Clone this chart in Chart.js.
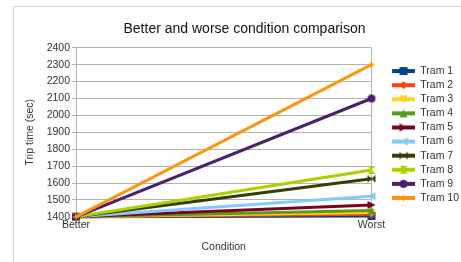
<!DOCTYPE html>
<html>
<head>
<meta charset="utf-8">
<script src="https://cdn.jsdelivr.net/npm/chart.js@4"></script>
<style>
  body { margin: 0; background: #fff; }
  #wrap { width: 461px; height: 262px; }
</style>
</head>
<body>
<div id="wrap"><canvas id="chart_canvas"></canvas></div>
<script>
const conditions = ['Better', 'Worst'];
const trams = ['Tram 1', 'Tram 2', 'Tram 3', 'Tram 4', 'Tram 5', 'Tram 6', 'Tram 7', 'Tram 8', 'Tram 9', 'Tram 10'];
const betterTimes = [1400, 1400, 1400, 1400, 1400, 1400, 1400, 1400, 1400, 1400];
const worstTimes = [1405, 1415, 1425, 1437, 1470, 1522, 1625, 1677, 2100, 2300];
const yTicks = [1400, 1500, 1600, 1700, 1800, 1900, 2000, 2100, 2200, 2300, 2400];

const colors = ['#004586', '#ff420e', '#ffd320', '#579d1c', '#7e0021', '#83caff', '#314004', '#aecf00', '#4b1f6f', '#ff950e'];
const shapes = ['square', 'diamond', 'down', 'up', 'right', 'left', 'bowtie', 'hourglass', 'circle', 'star'];

function drawMarker(c, shape, x, y, r) {
    c.beginPath();
    switch (shape) {
        case 'square': c.rect(x - r, y - r, 2 * r, 2 * r); break;
        case 'diamond': c.moveTo(x, y - r); c.lineTo(x + r, y); c.lineTo(x, y + r); c.lineTo(x - r, y); break;
        case 'down': c.moveTo(x - r, y - r); c.lineTo(x + r, y - r); c.lineTo(x, y + r); break;
        case 'up': c.moveTo(x - r, y + r); c.lineTo(x + r, y + r); c.lineTo(x, y - r); break;
        case 'right': c.moveTo(x - r, y - r); c.lineTo(x + r, y); c.lineTo(x - r, y + r); break;
        case 'left': c.moveTo(x + r, y - r); c.lineTo(x - r, y); c.lineTo(x + r, y + r); break;
        case 'bowtie':
            c.moveTo(x - r, y - r); c.lineTo(x, y); c.lineTo(x - r, y + r); c.closePath();
            c.moveTo(x + r, y - r); c.lineTo(x, y); c.lineTo(x + r, y + r); break;
        case 'hourglass':
            c.moveTo(x - r, y - r); c.lineTo(x + r, y - r); c.lineTo(x, y); c.closePath();
            c.moveTo(x - r, y + r); c.lineTo(x + r, y + r); c.lineTo(x, y); break;
        case 'circle': c.arc(x, y, r, 0, Math.PI * 2); break;
        case 'star':
            c.moveTo(x, y - r); c.lineTo(x + r * 0.25, y - r * 0.25); c.lineTo(x + r, y);
            c.lineTo(x + r * 0.25, y + r * 0.25); c.lineTo(x, y + r); c.lineTo(x - r * 0.25, y + r * 0.25);
            c.lineTo(x - r, y); c.lineTo(x - r * 0.25, y - r * 0.25); break;
    }
    c.closePath();
    c.fill();
}

function markerCanvas(i) {
    const cv = document.createElement('canvas');
    cv.width = 10; cv.height = 10;
    const c = cv.getContext('2d');
    c.fillStyle = colors[i];
    drawMarker(c, shapes[i], 5, 5, 4);
    return cv;
}

function legendCanvas(i) {
    const cv = document.createElement('canvas');
    cv.width = 40; cv.height = 10;
    const c = cv.getContext('2d');
    c.strokeStyle = colors[i];
    c.lineWidth = 4;
    c.beginPath(); c.moveTo(17, 5); c.lineTo(40, 5); c.stroke();
    c.fillStyle = colors[i];
    drawMarker(c, shapes[i], 28.5, 5, 4);
    return cv;
}

const legendIcons = trams.map((t, i) => legendCanvas(i));

const frame = {
    id: 'frame',
    beforeDraw(chart) {
        const c = chart.ctx;
        c.save();
        c.strokeStyle = '#d4d4d4';
        c.lineWidth = 1;
        c.beginPath();
        c.moveTo(13.5, 270); c.lineTo(13.5, 6.5); c.lineTo(470, 6.5);
        c.stroke();
        c.restore();
    }
};

Chart.defaults.font.family = 'Liberation Sans';
Chart.defaults.color = '#333';

document.addEventListener('DOMContentLoaded', () => {
    const ctx = document.getElementById('chart_canvas').getContext('2d');
    new Chart(ctx, {
        type: 'line',
        data: {
            labels: conditions,
            datasets: trams.map((name, i) => ({
                label: name,
                data: [betterTimes[i], worstTimes[i]],
                borderColor: colors[i],
                backgroundColor: colors[i],
                borderWidth: 3,
                pointStyle: markerCanvas(i),
                pointRadius: 4,
                tension: 0,
                clip: false,
                order: trams.length - i
            }))
        },
        plugins: [frame],
        options: {
            responsive: true,
            maintainAspectRatio: false,
            animation: false,
            layout: {
                padding: { left: 20, right: -8, top: 0, bottom: 7 }
            },
            plugins: {
                title: {
                    display: true,
                    text: 'Better and worse condition comparison',
                    color: '#111',
                    font: { size: 14, weight: 'normal' },
                    padding: { top: 21, bottom: 10 }
                },
                legend: {
                    position: 'right',
                    title: {
                        display: true,
                        text: ' ',
                        font: { size: 10, lineHeight: 1 },
                        padding: { top: 2, bottom: 2 }
                    },
                    labels: {
                        usePointStyle: true,
                        pointStyleWidth: 40,
                        boxHeight: 10,
                        padding: 3.6,
                        font: { size: 10.5 },
                        color: '#333',
                        sort: (a, b) => a.datasetIndex - b.datasetIndex,
                        generateLabels: (chart) => chart.data.datasets.map((ds, i) => ({
                            text: ds.label,
                            pointStyle: legendIcons[i],
                            datasetIndex: i,
                            fontColor: '#333',
                            lineWidth: 0,
                            hidden: false
                        }))
                    }
                },
                tooltip: { enabled: false }
            },
            scales: {
                x: {
                    offset: false,
                    grid: { color: '#b3b3b3', drawTicks: false },
                    border: { color: '#b3b3b3' },
                    ticks: { padding: 2, font: { size: 10.5 } },
                    title: {
                        display: true,
                        text: 'Condition',
                        font: { size: 10.5 },
                        padding: { top: 7, bottom: 2 }
                    }
                },
                y: {
                    min: 1400,
                    max: 2400,
                    afterBuildTicks: (scale) => { scale.ticks = yTicks.map(v => ({ value: v })); },
                    afterFit: (scale) => { scale.width = 56; },
                    grid: { color: '#b3b3b3', tickLength: 4 },
                    border: { color: '#b3b3b3' },
                    ticks: { padding: 2, font: { size: 10.5 }, callback: (v) => String(v) },
                    title: {
                        display: true,
                        text: 'Trip time (sec)',
                        font: { size: 10.5 },
                        padding: { top: 4, bottom: 4 }
                    }
                }
            }
        }
    });
});
</script>
</body>
</html>
